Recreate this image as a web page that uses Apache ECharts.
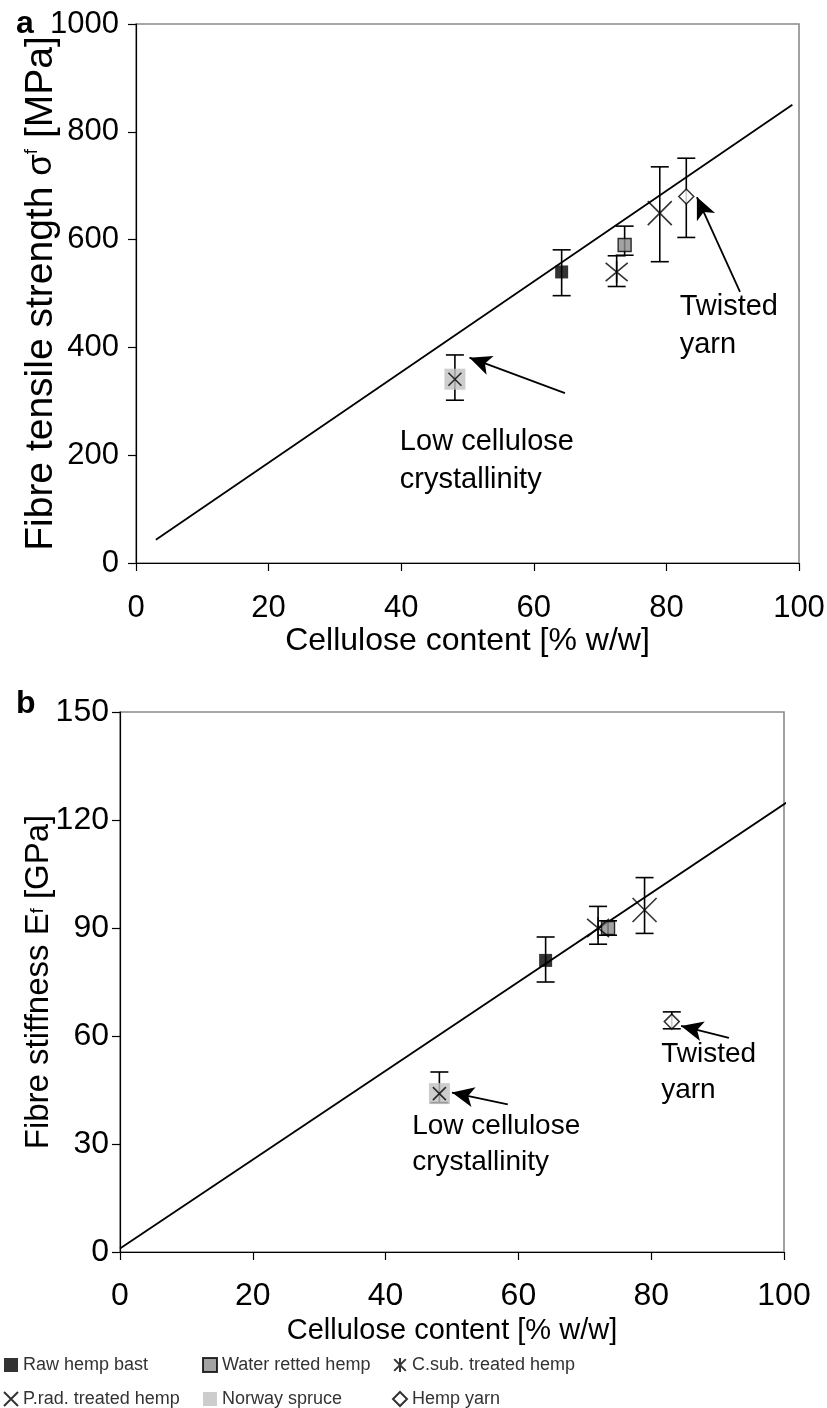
<!DOCTYPE html>
<html><head><meta charset="utf-8">
<script src="https://cdn.jsdelivr.net/npm/echarts@6/dist/echarts.min.js"></script>
<style>html,body{margin:0;padding:0;background:#fff}#c{width:827px;height:1408px}</style>
</head><body><div id="c"></div>
<script>
// ---- data ----
const xTicks = [0, 20, 40, 60, 80, 100];
const yTicksA = [0, 200, 400, 600, 800, 1000];
const yTicksB = [0, 30, 60, 90, 120, 150];
const groups = ['Raw hemp bast', 'Water retted hemp', 'C.sub. treated hemp', 'P.rad. treated hemp', 'Norway spruce', 'Hemp yarn'];
// panel a: cellulose content vs tensile strength
const celluloseA = [64.2, 73.7, 72.5, 79.0, 48.1, 83.0];
const strengthA = [540, 590, 540, 649, 341, 680];
const strengthLowA = [496, 571, 513, 559, 302, 604];
const strengthHighA = [581, 625, 570, 735, 386, 751];
// panel b: cellulose content vs stiffness
const celluloseB = [64.1, 73.5, 72.0, 79.0, 48.1, 83.1];
const stiffnessB = [81, 90, 90, 95, 44, 64];
const stiffLowB = [75, 88, 85.5, 88.5, 41.5, 62];
const stiffHighB = [87.5, 92, 96, 104, 50, 66.7];
// fitted lines
const fitA = [[3, 43], [99, 850]];
const fitB = [[0, 1], [100.5, 125]];
// annotation arrows [tail, head] (data coordinates)
const arrowsA = [[[64.7, 315], [50.3, 381]], [[91.1, 503], [84.6, 679]]];
const arrowsB = [[[58.4, 41], [50, 44.3]], [[91.7, 59.5], [84.5, 62.8]]];

const FONT = '"Liberation Sans", Arial, sans-serif';
const SX = 'path://M0,0L20,20M20,0L0,20';
const SAST = 'path://M0,0L20,20M20,0L0,20M10,-2L10,22';

function errorSeries(g, xs, lo, hi) {
  return {
    type: 'custom', xAxisIndex: g, yAxisIndex: g, z: 2, silent: true,
    data: xs.map((x, i) => [x, lo[i], hi[i]]),
    renderItem(params, api) {
      const x = api.value(0), l = api.value(1), h = api.value(2);
      const p1 = api.coord([x, h]), p2 = api.coord([x, l]);
      const w = 9, st = { stroke: '#000', lineWidth: 1.6 };
      return { type: 'group', children: [
        { type: 'line', shape: { x1: p1[0], y1: p1[1], x2: p2[0], y2: p2[1] }, style: st },
        { type: 'line', shape: { x1: p1[0] - w, y1: p1[1], x2: p1[0] + w, y2: p1[1] }, style: st },
        { type: 'line', shape: { x1: p2[0] - w, y1: p2[1], x2: p2[0] + w, y2: p2[1] }, style: st }
      ] };
    }
  };
}
function markerSeries(g, xs, ys) {
  const pts = xs.map((x, i) => [x, ys[i]]);
  const out = [];
  const mk = (idx, name, symbol, size, style) => out.push({
    type: 'scatter', name: name, xAxisIndex: g, yAxisIndex: g, z: 5,
    symbol: symbol, symbolSize: size, data: [pts[idx]], itemStyle: style, silent: true
  });
  mk(0, groups[0], 'rect', 13, { color: '#000' });
  mk(1, groups[1], 'rect', 13, { color: '#8c8c8c', borderColor: '#000', borderWidth: 1.4 });
  mk(2, groups[2], SAST, 22, { color: 'rgba(0,0,0,0)', borderColor: '#000', borderWidth: 1.6 });
  mk(3, groups[3], SX, 24, { color: 'rgba(0,0,0,0)', borderColor: '#000', borderWidth: 1.6 });
  mk(4, groups[4], 'rect', 21, { color: '#c0c0c0' });
  mk(4, '', SX, 13, { color: 'rgba(0,0,0,0)', borderColor: '#000', borderWidth: 1.6 });
  mk(5, groups[5], 'diamond', 15, { color: '#fff', borderColor: '#000', borderWidth: 1.5 });
  return out;
}
function arrowSeries(g, arrows) {
  return {
    type: 'line', xAxisIndex: g, yAxisIndex: g, data: [], silent: true,
    markLine: {
      silent: true, animation: false,
      symbol: ['none', 'arrow'], symbolSize: [15, 22],
      lineStyle: { color: '#000', width: 1.8, type: 'solid' },
      label: { show: false },
      data: arrows.map(a => [{ coord: a[0] }, { coord: a[1] }])
    }
  };
}
function fitSeries(g, d) {
  return { type: 'line', xAxisIndex: g, yAxisIndex: g, data: d, symbol: 'none', clip: false, z: 3,
    lineStyle: { color: '#000', width: 1.8 }, silent: true };
}
function xAxis(g, fs, margin, name, gap, nfs) {
  return { type: 'value', gridIndex: g, min: 0, max: 100, interval: 20,
    axisLine: { show: true, onZero: false, lineStyle: { color: '#000', width: 1.2 } },
    axisTick: { show: true, inside: false, length: 8, lineStyle: { color: '#000', width: 1.2 } },
    splitLine: { show: false },
    axisLabel: { fontSize: fs, color: '#000', fontFamily: FONT, margin: margin, formatter: v => String(v) },
    name: name, nameLocation: 'middle', nameGap: gap, nameMoveOverlap: false,
    nameTextStyle: { fontSize: nfs, color: '#000', fontFamily: FONT } };
}
function yAxis(g, max, iv, fs, margin, name, gap, nfs, rich) {
  return { type: 'value', gridIndex: g, min: 0, max: max, interval: iv,
    axisLine: { show: true, onZero: false, lineStyle: { color: '#000', width: 1.2 } },
    axisTick: { show: true, inside: false, length: 8, lineStyle: { color: '#000', width: 1.2 } },
    splitLine: { show: false },
    axisLabel: { fontSize: fs, color: '#000', fontFamily: FONT, margin: margin, formatter: v => String(v) },
    name: name, nameLocation: 'middle', nameGap: gap, nameRotate: 90, nameMoveOverlap: false,
    nameTextStyle: { fontSize: nfs, color: '#000', fontFamily: FONT, rich: rich } };
}

const chart = echarts.init(document.getElementById('c'), null, { renderer: 'canvas' });
const legendBase = { orient: 'vertical', itemGap: 16, itemWidth: 14, itemHeight: 14,
  textStyle: { fontSize: 18, color: '#333', fontFamily: FONT }, selectedMode: false, padding: 0 };
const option = {
  animation: false,
  backgroundColor: '#fff',
  grid: [
    { left: 136, top: 24, width: 663, height: 539, outerBoundsMode: 'none', containLabel: false, show: true, borderColor: '#8a8a8a', borderWidth: 1.6, backgroundColor: 'transparent' },
    { left: 120, top: 712, width: 664, height: 540, outerBoundsMode: 'none', containLabel: false, show: true, borderColor: '#8a8a8a', borderWidth: 1.6, backgroundColor: 'transparent' }
  ],
  xAxis: [
    xAxis(0, 31, 30, 'Cellulose content [% w/w]', 62, 32),
    xAxis(1, 32, 28, 'Cellulose content [% w/w]', 64, 29)
  ],
  yAxis: [
    yAxis(0, 1000, 200, 31, 17, 'Fibre tensile strength {s|σ}{f|f} [MPa]', 75, 39,
      { s: { fontSize: 35, fontFamily: FONT }, f: { fontSize: 19, fontFamily: FONT, verticalAlign: 'top', padding: [0, 0, 16, 0] } }),
    yAxis(1, 150, 30, 32, 11, 'Fibre stiffness E{f|f} [GPa]', 65, 33,
      { f: { fontSize: 18, fontFamily: FONT } })
  ],
  legend: [
    Object.assign({}, legendBase, { left: 3, top: 1356, data: [groups[0], groups[3]] }),
    Object.assign({}, legendBase, { left: 202, top: 1356, data: [groups[1], groups[4]] }),
    Object.assign({}, legendBase, { left: 392, top: 1356, data: [groups[2], groups[5]] })
  ],
  graphic: [
    { type: 'text', left: 16, top: 8, style: { text: 'a', fontSize: 32, fontWeight: 'bold', fontFamily: FONT, fill: '#000' } },
    { type: 'text', left: 16, top: 688, style: { text: 'b', fontSize: 32, fontWeight: 'bold', fontFamily: FONT, fill: '#000' } }
  ],
  series: [
    fitSeries(0, fitA), fitSeries(1, fitB),
    errorSeries(0, celluloseA, strengthLowA, strengthHighA),
    errorSeries(1, celluloseB, stiffLowB, stiffHighB),
    ...markerSeries(0, celluloseA, strengthA),
    ...markerSeries(1, celluloseB, stiffnessB),
    arrowSeries(0, arrowsA), arrowSeries(1, arrowsB)
  ]
};
chart.setOption(option);

// annotation texts placed through the axes' scales
const notes = [
  { g: 0, at: [39.8, 259], text: 'Low cellulose\ncrystallinity', fs: 29 },
  { g: 0, at: [82, 510], text: 'Twisted\nyarn', fs: 29 },
  { g: 1, at: [44, 40], text: 'Low cellulose\ncrystallinity', fs: 28 },
  { g: 1, at: [81.5, 60], text: 'Twisted\nyarn', fs: 28 }
];
const extra = notes.map(n => {
  const p = chart.convertToPixel({ gridIndex: n.g }, n.at);
  return { type: 'text', x: p[0], y: p[1], style: { text: n.text, fontSize: n.fs, lineHeight: Math.round(n.fs * 1.3), fontFamily: FONT, fill: '#000' } };
});
chart.setOption({ graphic: option.graphic.concat(extra) });
</script></body></html>
